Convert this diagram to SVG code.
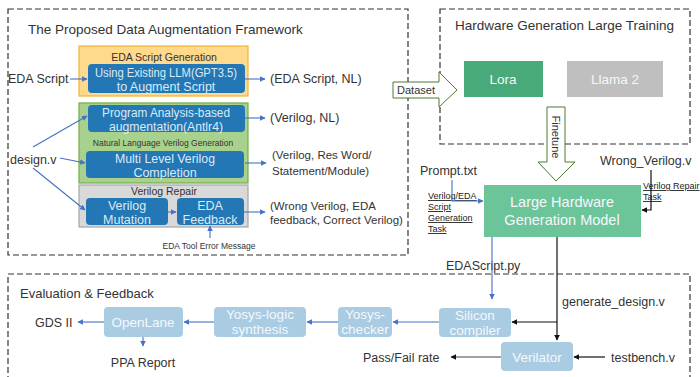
<svg xmlns="http://www.w3.org/2000/svg" width="700" height="377" viewBox="0 0 700 377">
<style>
text{font-family:"Liberation Sans",Arial,sans-serif;fill:#333}
.dash{fill:none;stroke:#333;stroke-width:1.2;stroke-dasharray:6,3}
.blue{fill:#2277B4}
.bt{fill:#DCEAF6;font-size:12.5px;text-anchor:middle}
.lb{fill:#A9CCE3}
.lt{fill:#F4F8FC;font-size:13.5px;text-anchor:middle}
.lbl{font-size:12.5px}
.sm{font-size:9.5px;text-anchor:middle}
.u{font-size:9px;text-decoration:underline;fill:#222}
.ab{stroke:#4472C4;stroke-width:1.1;fill:none;marker-end:url(#ab)}
.ak{stroke:#111;stroke-width:1.2;fill:none;marker-end:url(#ak)}
.ag{stroke:#444;stroke-width:1.2;fill:none;marker-end:url(#ak)}
.big{fill:#fff;stroke:#4E7A2E;stroke-width:1}
</style>
<defs>
<marker id="ab" viewBox="0 0 10 10" refX="9" refY="5" markerWidth="5" markerHeight="5" orient="auto"><path d="M0,0 L10,5 L0,10 z" fill="#4472C4"/></marker>
<marker id="ak" viewBox="0 0 10 10" refX="9" refY="5" markerWidth="5" markerHeight="5" orient="auto"><path d="M0,0 L10,5 L0,10 z" fill="#111"/></marker>
</defs>

<rect class="dash" x="8" y="9" width="400" height="246"/>
<rect class="dash" x="440" y="9" width="250" height="135"/>
<rect class="dash" x="8" y="274" width="682" height="110"/>

<text x="28" y="34" font-size="13.5">The Proposed Data Augmentation Framework</text>
<text x="455" y="30" font-size="13.5">Hardware Generation Large Training</text>
<text x="20" y="298" font-size="13">Evaluation &amp; Feedback</text>

<g id="eda-group">
<rect x="79" y="46" width="169" height="50" fill="#FFD98C" stroke="#F5B335" stroke-width="1.2"/>
<text x="164" y="61" class="sm" style="font-size:10.5px">EDA Script Generation</text>
</g>
<g id="eda-llm">
<rect class="blue" x="88" y="64" width="157" height="29" rx="4"/>
<text class="bt" x="166" y="77" textLength="142" lengthAdjust="spacingAndGlyphs">Using Existing LLM(GPT3.5)</text>
<text class="bt" x="166" y="91">to Augment Script</text>
</g>

<g id="nl-group">
<rect x="79" y="103" width="169" height="80" fill="#A9D18E" stroke="#70AD47" stroke-width="1.2"/>
<text x="163" y="146" class="sm" style="font-size:8.5px">Natural Language Verilog Generation</text>
</g>
<g id="prog-analysis">
<rect class="blue" x="88" y="105" width="157" height="27" rx="4"/>
<text class="bt" x="166" y="117" textLength="128" lengthAdjust="spacingAndGlyphs">Program Analysis-based</text>
<text class="bt" x="166" y="131" textLength="114" lengthAdjust="spacingAndGlyphs">augmentation(Antlr4)</text>
</g>
<g id="multi-level">
<rect class="blue" x="86" y="151" width="158" height="27" rx="4"/>
<text class="bt" x="165" y="163" textLength="100" lengthAdjust="spacingAndGlyphs">Multi Level Verilog</text>
<text class="bt" x="165" y="177">Completion</text>
</g>

<g id="repair-group">
<rect x="79" y="185" width="169" height="42" fill="#D9D9D9" stroke="#A6A6A6" stroke-width="1.2"/>
<text x="164" y="195" class="sm" style="font-size:10.5px">Verilog Repair</text>
</g>
<g id="mutation">
<rect class="blue" x="86" y="198" width="82" height="27" rx="4"/>
<text class="bt" x="127" y="210">Verilog</text>
<text class="bt" x="127" y="224">Mutation</text>
</g>
<g id="feedback">
<rect class="blue" x="177" y="198" width="67" height="27" rx="4"/>
<text class="bt" x="210" y="210">EDA</text>
<text class="bt" x="210" y="224">Feedback</text>
</g>

<g id="labels-left">
<text class="lbl" x="8" y="83">EDA Script</text>
<text class="lbl" x="270" y="83">(EDA Script, NL)</text>
<text class="lbl" x="270" y="122">(Verilog, NL)</text>
<text class="lbl" x="10" y="164">design.v</text>
<text x="272" y="159" font-size="11.5">(Verilog, Res Word/</text>
<text x="272" y="175" font-size="11.5">Statement/Module)</text>
<text x="270" y="210" font-size="11.5">(Wrong Verilog, EDA</text>
<text x="270" y="224" font-size="11.5">feedback, Correct Verilog)</text>
<text x="209" y="249" class="sm" style="font-size:8.5px">EDA Tool Error Message</text>
</g>

<g id="lora"><rect x="464" y="61" width="79" height="36" fill="#47AA78"/><text class="lt" x="503" y="84">Lora</text></g>
<g id="llama"><rect x="567" y="61" width="96" height="36" fill="#BFBFBF"/><text class="lt" x="615" y="84">Llama 2</text></g>

<g id="dataset-arrow">
<path class="big" d="M393,82 H439 V72 L457,90 L439,107 V98 H393 Z"/>
<text x="416" y="94" font-size="11" text-anchor="middle">Dataset</text>
</g>
<g id="finetune-arrow">
<path class="big" d="M547,107 H565 V162 H575 L556,181 L538,162 H547 Z"/>
<text font-size="11" text-anchor="middle" transform="translate(552,137) rotate(90)">Finetune</text>
</g>

<g id="model">
<rect x="484" y="185" width="157" height="52" fill="#6CC499"/>
<text class="lt" x="562" y="207" style="font-size:14.5px">Large Hardware</text>
<text class="lt" x="562" y="225" style="font-size:14.5px">Generation Model</text>
</g>

<g id="side-labels">
<text class="lbl" x="420" y="175" font-size="13">Prompt.txt</text>
<text class="lbl" x="600" y="165" font-size="13">Wrong_Verilog.v</text>
<text class="u" x="428" y="199">Verilog/EDA</text>
<text class="u" x="428" y="210">Script</text>
<text class="u" x="428" y="221">Generation</text>
<text class="u" x="428" y="232">Task</text>
<text class="u" x="643" y="189">Verilog Repair</text>
<text class="u" x="643" y="200">Task</text>
<text class="lbl" x="446" y="270">EDAScript.py</text>
<text class="lbl" x="562" y="306">generate_design.v</text>
<text class="lbl" x="35" y="327">GDS II</text>
<text class="lbl" x="143" y="367" text-anchor="middle">PPA Report</text>
<text class="lbl" x="363" y="362">Pass/Fail rate</text>
<text class="lbl" x="611" y="362">testbench.v</text>
</g>

<g id="silicon"><rect class="lb" x="439" y="308" width="72" height="29" rx="4"/><text class="lt" x="475" y="320">Silicon</text><text class="lt" x="475" y="335">compiler</text></g>
<g id="yosys-checker"><rect class="lb" x="338" y="307" width="54" height="30" rx="4"/><text class="lt" x="365" y="319">Yosys-</text><text class="lt" x="365" y="334">checker</text></g>
<g id="yosys-synth"><rect class="lb" x="214" y="307" width="92" height="30" rx="4"/><text class="lt" x="260" y="319">Yosys-logic</text><text class="lt" x="260" y="334">synthesis</text></g>
<g id="openlane"><rect class="lb" x="104" y="307" width="79" height="30" rx="4"/><text class="lt" x="143" y="327">OpenLane</text></g>
<g id="verilator"><rect class="lb" x="501" y="342" width="72" height="29" rx="4"/><text class="lt" x="537" y="362">Verilator</text></g>

<g id="connectors">
<line class="ab" x1="70" y1="79" x2="87" y2="79"/>
<line class="ab" x1="245" y1="79" x2="265" y2="79"/>
<line class="ab" x1="245" y1="118" x2="265" y2="118"/>
<line class="ab" x1="245" y1="163" x2="266" y2="163"/>
<line class="ab" x1="244" y1="212" x2="265" y2="212"/>
<line class="ab" x1="33" y1="147" x2="87" y2="116"/>
<line class="ab" x1="60" y1="158" x2="85" y2="163"/>
<line class="ab" x1="33" y1="168" x2="85" y2="210"/>
<line class="ab" x1="168" y1="212" x2="176" y2="212"/>
<line class="ab" x1="210" y1="238" x2="210" y2="226"/>
<polyline class="ab" points="452,180 452,201 483,201"/>
<polyline class="ak" points="651,170 651,210 642,210"/>
<line class="ab" x1="492" y1="237" x2="492" y2="299"/>
<line class="ak" x1="557" y1="237" x2="557" y2="340"/>
<line class="ak" x1="557" y1="322" x2="512" y2="322"/>
<line class="ab" x1="439" y1="322" x2="393" y2="322"/>
<line class="ab" x1="338" y1="322" x2="307" y2="322"/>
<line class="ab" x1="214" y1="322" x2="184" y2="322"/>
<line class="ab" x1="104" y1="322" x2="78" y2="322"/>
<line class="ab" x1="143" y1="337" x2="143" y2="346"/>
<line class="ag" x1="501" y1="357" x2="451" y2="357"/>
<line class="ak" x1="605" y1="357" x2="574" y2="357"/>
</g>
</svg>
